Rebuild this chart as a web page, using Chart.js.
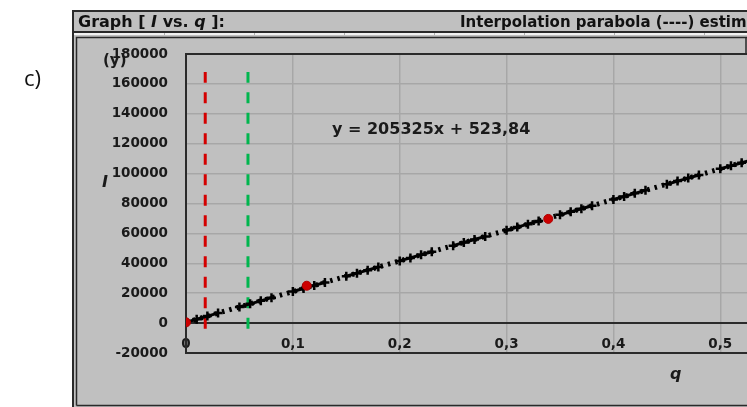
<!DOCTYPE html>
<html>
<head>
<meta charset="utf-8">
<script src="https://cdn.jsdelivr.net/npm/chart.js@4.4.1/dist/chart.umd.min.js"></script>
<style>
  html, body { margin: 0; padding: 0; background: #ffffff; overflow: hidden; }
  #wrap { position: relative; width: 747px; height: 407px; }
</style>
</head>
<body>
<div id="wrap"><canvas id="c" width="747" height="407"></canvas></div>
<script>
// Measured current I against charge fraction q (gaps mark skipped readings)
const qValues = [0, 0.01, 0.02, 0.03, 0.04, 0.05, 0.06, 0.07, 0.08, 0.09,
                 0.10, 0.11, 0.12, 0.13, 0.14, 0.15, 0.16, 0.17, 0.18, 0.19,
                 0.20, 0.21, 0.22, 0.23, 0.24, 0.25, 0.26, 0.27, 0.28, 0.29,
                 0.30, 0.31, 0.32, 0.33, 0.34, 0.35, 0.36, 0.37, 0.38, 0.39,
                 0.40, 0.41, 0.42, 0.43, 0.44, 0.45, 0.46, 0.47, 0.48, 0.49,
                 0.50, 0.51, 0.52, 0.53];
const iValues = [600, 2600, 4700, 6700, null, 10800, 12900, 14900, 17000, null,
                 21100, 23100, 25200, 27200, null, 31300, 33400, 35400, 37500, null,
                 41600, 43600, 45700, 47700, null, 51800, 53900, 55900, 58000, null,
                 62100, 64200, 66200, 68300, null, 72400, 74400, 76500, 78500, null,
                 82700, 84700, 86800, 88800, null, 92900, 95000, 97000, 99100, null,
                 103200, 105200, 107300, 109300];

// Interpolation nodes (red)
const nodeQ = [0, 0.113, 0.339];
const nodeI = [500, 25000, 69700];

// Linear fit shown in the label
const fitSlope = 205325;
const fitIntercept = 523.84;
const fitRange = [0, 0.53];

// Vertical reference markers
const limitRedQ = 0.018;
const limitGreenQ = 0.058;
const limitSpan = [-3700, 168000];

// Axes
const xTickValues = [0, 0.1, 0.2, 0.3, 0.4, 0.5];
const xMin = 0, xMax = 0.525;
const yMin = -20000, yMax = 180000, yStep = 20000;

const FONT = "'DejaVu Sans', Verdana, sans-serif";
const DARK = '#2a2a2a';
const GRID = '#a7a7a7';
const PANEL = '#c0c0c0';

const frame = {
  id: 'frame',
  beforeDraw(chart) {
    const ctx = chart.ctx, W = chart.width, H = chart.height;
    ctx.save();
    ctx.fillStyle = '#ffffff';
    ctx.fillRect(0, 0, W, H);
    ctx.fillStyle = PANEL;
    ctx.fillRect(72, 10, W - 72, H - 10);

    ctx.strokeStyle = DARK;
    ctx.lineWidth = 2;
    ctx.beginPath();
    ctx.moveTo(73, H); ctx.lineTo(73, 11); ctx.lineTo(W, 11);
    ctx.moveTo(73, 32); ctx.lineTo(W, 32);
    ctx.stroke();

    // light separator under the title bar
    ctx.fillStyle = '#f2f2f2';
    ctx.fillRect(74, 33, W - 74, 2);
    ctx.fillStyle = '#b0b0b0';
    [164, 254, 344, 434, 524, 614, 704].forEach(x => ctx.fillRect(x, 33, 1, 2));

    // inner frame
    ctx.lineWidth = 1.5;
    ctx.beginPath();
    ctx.moveTo(76.5, 405.5); ctx.lineTo(76.5, 37.5); ctx.lineTo(W, 37.5);
    ctx.moveTo(76.5, 405.5); ctx.lineTo(W, 405.5);
    ctx.moveTo(746, 37.5); ctx.lineTo(746, 54);
    ctx.stroke();

    // title bar text
    ctx.fillStyle = '#111111';
    ctx.textBaseline = 'alphabetic';
    let x = 78;
    const parts = [['Graph [ ', false], ['I', true], [' vs. ', false], ['q', true], [' ]:', false]];
    parts.forEach(([t, it]) => {
      ctx.font = (it ? 'italic ' : '') + 'bold 16px ' + FONT;
      ctx.fillText(t, x, 26.5);
      x += ctx.measureText(t).width;
    });
    ctx.font = 'bold 15px ' + FONT;
    ctx.fillText('Interpolation parabola (----) estimation', 460, 26.5);

    // panel label
    ctx.font = "22px 'Open Sans', sans-serif";
    ctx.fillText('c)', 24, 86);
    ctx.restore();
  },
  afterDraw(chart) {
    const ctx = chart.ctx;
    ctx.save();
    ctx.fillStyle = '#1a1a1a';
    ctx.textBaseline = 'alphabetic';
    ctx.font = 'bold 16px ' + FONT;
    ctx.fillText('y = 205325x + 523,84', 332, 134);
    ctx.font = 'bold 15px ' + FONT;
    ctx.fillText('(y)', 103, 65);
    ctx.font = 'italic bold 16px ' + FONT;
    ctx.fillText('I', 102, 187);
    ctx.fillText('q', 670, 379);
    ctx.restore();
  }
};

const seriesPoints = qValues.map((q, i) => ({ x: q, y: iValues[i] }));
const nodePoints = nodeQ.map((q, i) => ({ x: q, y: nodeI[i] }));
const fitPoints = fitRange.map(q => ({ x: q, y: fitSlope * q + fitIntercept }));
const vline = q => [{ x: q, y: limitSpan[0] }, { x: q, y: limitSpan[1] }];

new Chart(document.getElementById('c'), {
  type: 'scatter',
  data: {
    datasets: [
      {
        label: 'nodes', data: nodePoints, order: 0,
        pointStyle: 'circle', pointRadius: 4.5, pointBackgroundColor: '#cc0000',
        pointBorderColor: '#b00000', pointBorderWidth: 1, showLine: false
      },
      {
        label: 'I', data: seriesPoints, order: 1, showLine: true, spanGaps: false,
        borderColor: '#000000', borderWidth: 3,
        pointStyle: 'cross', pointRadius: 4.5, pointBorderWidth: 2.5,
        pointBorderColor: '#000000', pointBackgroundColor: '#000000'
      },
      {
        label: 'fit', data: fitPoints, order: 2, showLine: true,
        borderColor: '#000000', borderWidth: 5, borderDash: [2.5, 5],
        pointRadius: 0
      },
      {
        label: 'limit red', data: vline(limitRedQ), order: 3, showLine: true,
        borderColor: '#d40000', borderWidth: 3, borderDash: [11, 9.5], pointRadius: 0
      },
      {
        label: 'limit green', data: vline(limitGreenQ), order: 3, showLine: true,
        borderColor: '#00b64e', borderWidth: 3, borderDash: [11, 9.5], pointRadius: 0
      }
    ]
  },
  options: {
    responsive: false,
    animation: false,
    events: [],
    layout: { autoPadding: false, padding: { left: 76, right: 0, top: 54, bottom: 24 } },
    plugins: { legend: { display: false }, tooltip: { enabled: false } },
    scales: {
      x: {
        type: 'linear', position: 'bottom', min: xMin, max: xMax,
        afterBuildTicks: s => { s.ticks = xTickValues.map(v => ({ value: v })); },
        afterFit: s => { s.height = 30; s.paddingLeft = 0; s.paddingRight = 0; },
        ticks: {
          mirror: true, padding: 0, color: '#1a1a1a',
          font: { family: FONT, size: 13.5, weight: 'bold' },
          maxRotation: 0, autoSkip: false,
          callback: v => v === 0 ? '0' : v.toFixed(1).replace('.', ',')
        },
        grid: {
          drawTicks: false,
          color: c => (c.tick && c.tick.value === 0) ? DARK : GRID,
          lineWidth: c => (c.tick && c.tick.value === 0) ? 2 : 1.5
        },
        border: { display: true, color: DARK, width: 2 }
      },
      y: {
        type: 'linear', min: yMin, max: yMax,
        afterFit: s => { s.width = 110; s.paddingTop = 0; s.paddingBottom = 0; },
        ticks: {
          stepSize: yStep, padding: 18, color: '#1a1a1a',
          font: { family: FONT, size: 13.5, weight: 'bold' },
          callback: v => String(v)
        },
        grid: {
          drawTicks: false,
          color: c => (c.tick && (c.tick.value === 0 || c.tick.value === yMax || c.tick.value === yMin)) ? DARK : GRID,
          lineWidth: c => (c.tick && (c.tick.value === 0 || c.tick.value === yMax || c.tick.value === yMin)) ? 2 : 1.5
        },
        border: { display: true, color: DARK, width: 2 }
      }
    }
  },
  plugins: [frame]
});
</script>
</body>
</html>
